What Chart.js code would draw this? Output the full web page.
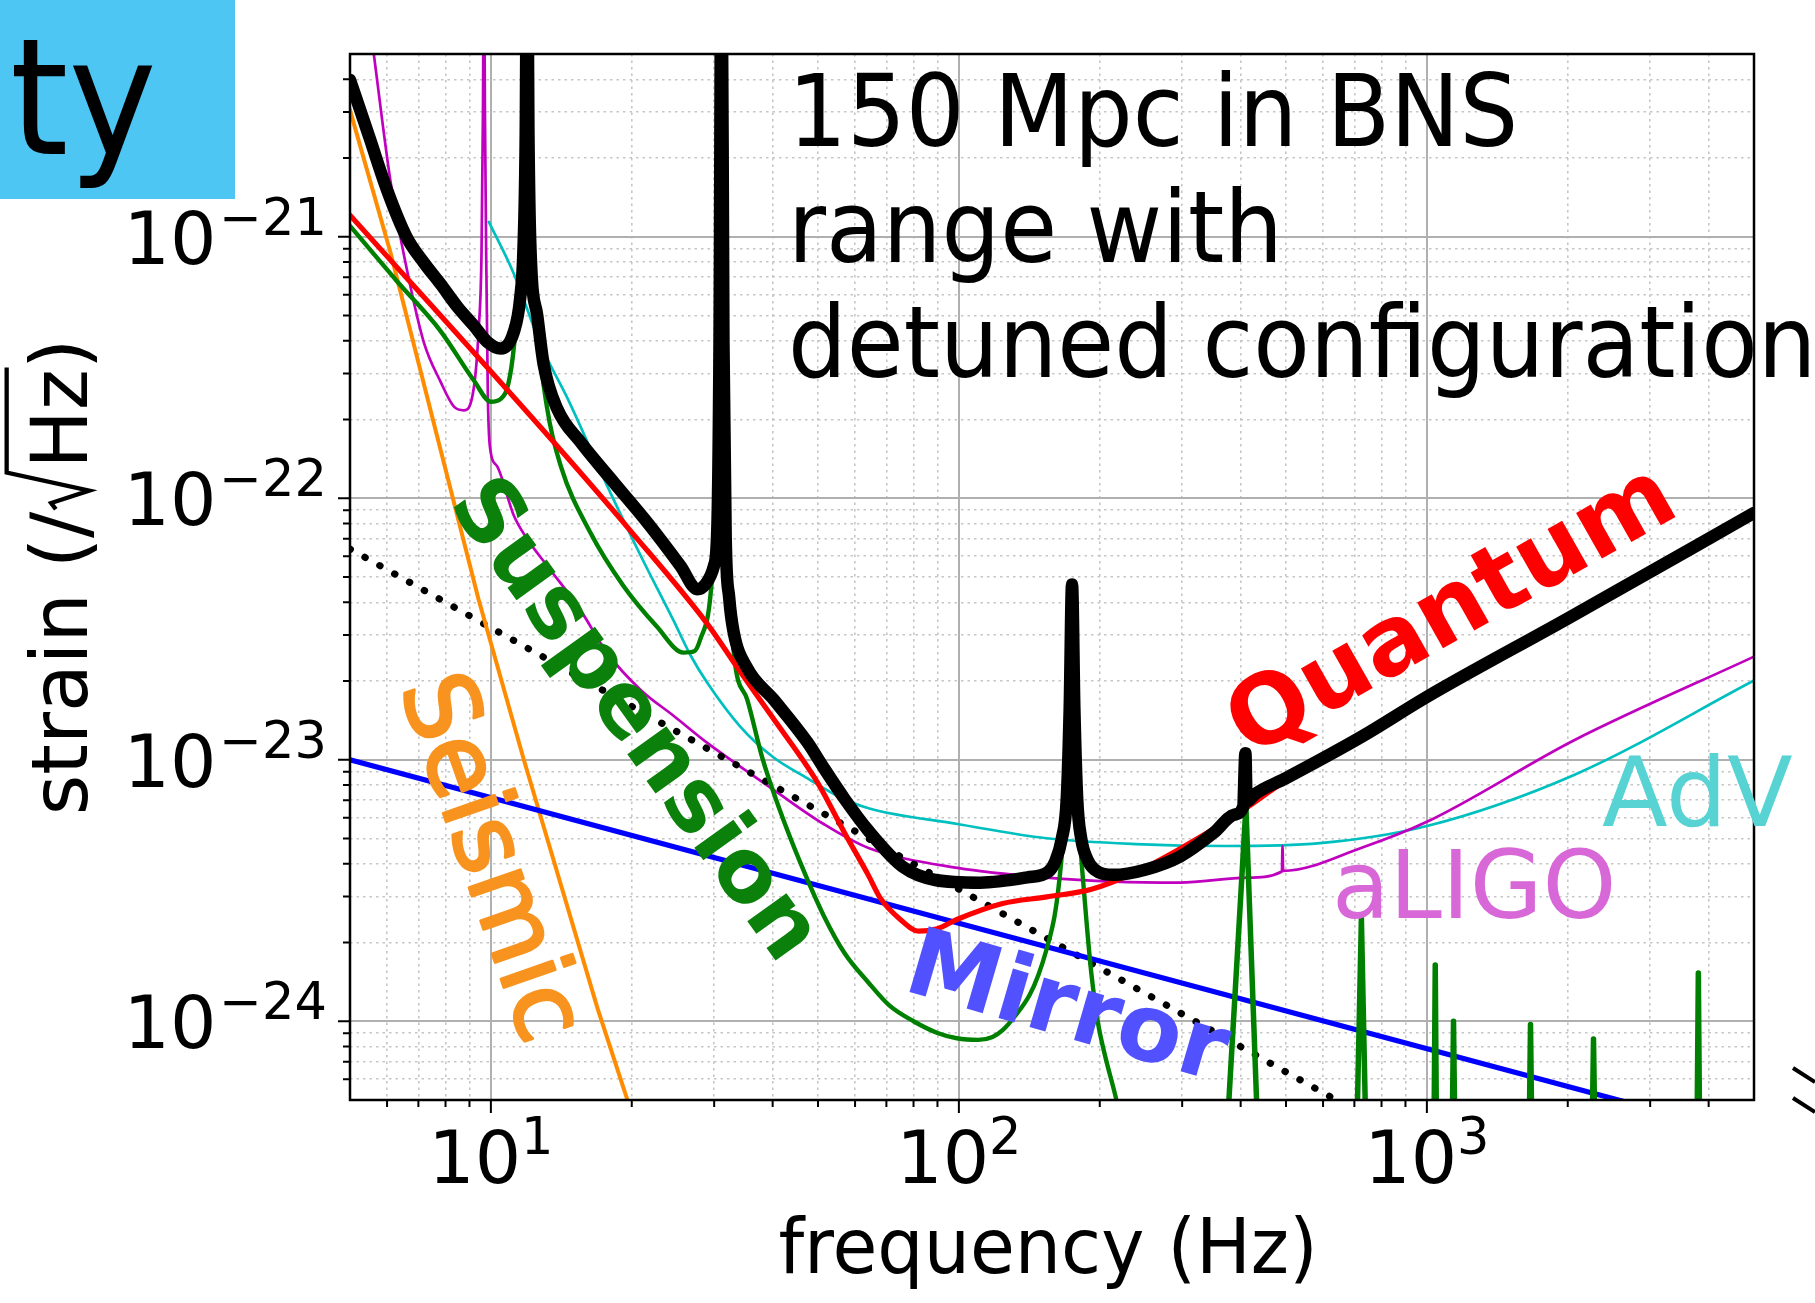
<!DOCTYPE html>
<html><head><meta charset="utf-8">
<script src="https://cdn.jsdelivr.net/npm/chart.js@4.4.1/dist/chart.umd.min.js"></script>
<style>html,body{margin:0;padding:0;background:#fff;overflow:hidden}canvas{display:block}</style>
</head><body>
<canvas id="c" width="1815" height="1303" style="width:1815px;height:1303px"></canvas>
<script>
// ---------- data (frequency in Hz, strain in 1/sqrt(Hz)) ----------
const totalFreq = [5,5.5,6,6.6,7.2,7.8,8.5,9.2,9.8,10.5,11.2,11.55,11.74,11.87,11.95,12.03,12.15,12.56,12.97,13.86,15.54,18.31,21.58,25.42,27.6,28.7,29.95,30.45,30.8,31.1,31.4,31.75,32.3,33,35.3,40.2,47.4,51.4,57,64,76,89,111,140,155,160.5,166,170,172.5,174.5,176.5,179,182.5,188,195,214,250,297,350,388,405,409.5,412,430,500,728,1000,2000,5000];
const totalStrain = [3.98e-21,2.40e-21,1.51e-21,1.00e-21,7.94e-22,6.61e-22,5.37e-22,4.57e-22,3.98e-22,3.74e-22,4.34e-22,5.82e-22,9.04e-22,2.51e-21,1.58e-20,2.51e-21,9.04e-22,5.01e-22,3.24e-22,2.20e-22,1.64e-22,1.15e-22,8.09e-23,5.51e-23,4.49e-23,4.68e-23,5.50e-23,7.41e-23,3.98e-22,1.58e-20,3.98e-22,7.08e-23,4.17e-23,3.09e-23,2.24e-23,1.70e-23,1.17e-23,9.33e-24,7.08e-24,5.37e-24,3.89e-24,3.47e-24,3.39e-24,3.55e-24,3.72e-24,4.07e-24,5.01e-24,7.08e-24,1.58e-23,4.68e-23,1.58e-23,7.08e-24,5.01e-24,4.17e-24,3.80e-24,3.63e-24,3.80e-24,4.27e-24,5.25e-24,6.17e-24,6.61e-24,1.06e-23,6.92e-24,7.41e-24,8.51e-24,1.23e-23,1.74e-23,3.47e-23,8.79e-23];

const quantumFreq = [5,12.8,20,29,34,40,50,57,64,68,75,82,90,99,124,154,192,239,297,388,500,1000,2000,5000];
const quantumStrain = [1.21e-21,1.86e-22,7.41e-23,3.31e-23,2.19e-23,1.45e-23,8.13e-24,5.25e-24,3.63e-24,2.95e-24,2.45e-24,2.21e-24,2.26e-24,2.45e-24,2.82e-24,2.99e-24,3.20e-24,3.72e-24,4.57e-24,6.10e-24,8.32e-24,1.70e-23,3.43e-23,8.71e-23];

const suspensionFreq = [5,6.3,7.8,9.2,10,10.5,10.9,11.2,11.5,11.8,11.95,12.1,12.6,13.2,14.1,16.3,19.2,22.6,25.8,27.2,28,29.5,30.3,30.8,31.1,31.4,32.2,33,35.3,38,41.3,46,51.4,57,64,71,80,90,99,110,118,124,132,141.6,148,154,160,163,167,170.5,173,174.5,176,178.5,181.5,185,188,192,198,205,217,235,260,300];
const suspensionStrain = [1.10e-21,6.76e-22,4.37e-22,2.82e-22,2.34e-22,2.40e-22,2.75e-22,3.80e-22,7.08e-22,2.00e-21,1.58e-20,2.00e-21,4.47e-22,2.19e-22,1.33e-22,7.41e-23,4.62e-23,3.24e-23,2.57e-23,2.60e-23,2.88e-23,4.37e-23,1.00e-22,5.01e-22,1.58e-20,5.01e-22,6.31e-23,2.63e-23,1.70e-23,1.02e-23,6.53e-24,3.98e-24,2.54e-24,1.82e-24,1.41e-24,1.15e-24,1.00e-24,9.02e-25,8.61e-25,8.49e-25,8.71e-25,9.25e-25,1.05e-24,1.26e-24,1.51e-24,1.89e-24,2.51e-24,3.16e-24,5.01e-24,1.00e-23,2.51e-23,4.47e-23,2.51e-23,1.00e-23,5.01e-24,3.16e-24,2.24e-24,1.51e-24,1.00e-24,7.46e-25,5.01e-25,2.51e-25,1.00e-25,1.00e-26];

const violinFreq = [370.6,410.5,437.6,709,724.5,740,1036,1042,1048,1133,1140,1147,1655,1665,1675,2256,2270,2284,3779,3802,3825,5000];
const violinStrain = [2.82e-25,6.61e-24,2.82e-25,4e-25,2.48e-24,4e-25,4e-25,1.64e-24,4e-25,4e-25,1.00e-24,4e-25,4e-25,9.73e-25,4e-25,4e-25,8.55e-25,4e-25,4e-25,1.53e-24,4e-25,4e-25];

const mirrorFreq = [5,100,5000];
const mirrorStrain = [1.0e-23,2.37e-24,3.63e-25];

const seismicFreq = [5,6.1,9.41,11.76,16.9,19.6,25];
const seismicStrain = [3.05e-21,8.73e-22,4.11e-23,1.0e-23,1.12e-24,4.97e-25,1.0e-25];

const dottedFreq = [5,100,5000];
const dottedStrain = [6.4e-23,3.2e-24,6.4e-26];

const aligoFreq = [5.3,5.62,6.1,6.62,7.19,7.8,8.34,8.76,9.19,9.42,9.55,9.62,9.66,9.71,9.77,9.85,9.95,10.3,11.2,12,13.2,15.5,17.7,20.9,24.6,29,34.1,40.2,51.4,64.1,99.3,154,214,297,413,490,491.5,493,728,1000,2069,5000];
const aligoStrain = [1.12e-20,5.01e-21,1.64e-21,7.45e-22,3.95e-22,2.80e-22,2.24e-22,2.17e-22,2.63e-22,4.47e-22,8.71e-22,3.16e-21,1.58e-20,3.16e-21,8.71e-22,2.51e-22,1.58e-22,1.33e-22,8.57e-23,6.92e-23,5.51e-23,3.76e-23,2.57e-23,1.85e-23,1.47e-23,1.16e-23,9.42e-24,7.67e-24,5.68e-24,4.60e-24,3.86e-24,3.54e-24,3.42e-24,3.39e-24,3.54e-24,3.74e-24,4.68e-24,3.76e-24,4.62e-24,5.79e-24,1.19e-23,2.48e-23];

const advFreq = [9.9,11.2,12.8,14.6,17.7,20.9,24.6,26.7,29,34.1,40.2,47.4,55.3,64.1,99.3,154,239,371,591,1000,2069,5000];
const advStrain = [1.14e-21,7.21e-22,3.84e-22,2.40e-22,1.12e-22,6.03e-23,3.39e-23,2.51e-23,1.97e-23,1.34e-23,1.02e-23,8.51e-24,7.24e-24,6.53e-24,5.68e-24,5.01e-24,4.76e-24,4.68e-24,4.80e-24,5.58e-24,8.77e-24,2.01e-23];

// ---------- axes / ticks ----------
const xMajorTicks = [10,100,1000];
const xMinorTicks = [6,7,8,9,20,30,40,50,60,70,80,90,200,300,400,500,600,700,800,900,2000,3000,4000];
const xTickExponents = ['1','2','3'];
const yMajorTicks = [1e-24,1e-23,1e-22,1e-21];
const yMinorTicks = [6e-25,7e-25,8e-25,9e-25,2e-24,3e-24,4e-24,5e-24,6e-24,7e-24,8e-24,9e-24,2e-23,3e-23,4e-23,5e-23,6e-23,7e-23,8e-23,9e-23,2e-22,3e-22,4e-22,5e-22,6e-22,7e-22,8e-22,9e-22,2e-21,3e-21,4e-21];
const yTickExponents = ['\u221224','\u221223','\u221222','\u221221'];

// ---------- texts ----------
const titleLines = ['150 Mpc in BNS','range with','detuned configuration'];
const xAxisTitle = 'frequency (Hz)';
const yAxisTitleParts = ['strain (/','Hz',')'];
const curveLabels = ['Suspension','Seismic','Quantum','Mirror','AdV','aLIGO'];
const cornerText = 'ty';

function pts(fs, hs){ return fs.map((f,i)=>({x:f, y:hs[i]})); }

const FONT = '"DejaVu Sans", "Noto Sans", sans-serif';

function gridTicks(majors, minors){
  const t = majors.map(v=>({value:v, major:true})).concat(minors.map(v=>({value:v, major:false})));
  t.sort((a,b)=>a.value-b.value);
  return t;
}

const isMajor = ctx => !!(ctx.tick && ctx.tick.major);

const decor = {
  id: 'decor',
  beforeDraw(chart){
    const c = chart.ctx; c.save(); c.fillStyle = '#fff'; c.fillRect(0,0,chart.width,chart.height); c.restore();
  },
  afterDatasetsDraw(chart){
    const c = chart.ctx, a = chart.chartArea, xs = chart.scales.x, ys = chart.scales.y;
    c.save();
    // frame
    c.strokeStyle = '#000'; c.lineWidth = 2.5;
    c.strokeRect(a.left, a.top, a.right-a.left, a.bottom-a.top);
    // tick marks
    c.lineWidth = 2; c.beginPath();
    xMajorTicks.forEach(v=>{const p=xs.getPixelForValue(v); c.moveTo(p,a.bottom); c.lineTo(p,a.bottom+13);});
    xMinorTicks.forEach(v=>{const p=xs.getPixelForValue(v); c.moveTo(p,a.bottom); c.lineTo(p,a.bottom+7);});
    yMajorTicks.forEach(v=>{const p=ys.getPixelForValue(v); c.moveTo(a.left,p); c.lineTo(a.left-12,p);});
    yMinorTicks.forEach(v=>{const p=ys.getPixelForValue(v); c.moveTo(a.left,p); c.lineTo(a.left-7,p);});
    c.stroke();

    // title text
    c.fillStyle = '#000'; c.textAlign = 'left'; c.textBaseline = 'alphabetic';
    const tb = [146, 262, 377];
    titleLines.forEach((t,i)=>{ c.save(); c.translate(788, tb[i]); c.scale(0.935,1); c.font = '99px ' + FONT; c.fillText(t,0,0); c.restore(); });

    // rotated curve labels
    const rl = (text, cx, cy, ang, size, weight, color, extra) => {
      c.save(); c.translate(cx, cy); c.rotate(ang*Math.PI/180);
      c.font = weight + ' ' + size + 'px ' + FONT; c.fillStyle = color;
      c.textAlign = 'center'; c.textBaseline = 'alphabetic';
      c.fillText(text, 0, 0.33*size);
      if (extra) { c.strokeStyle = color; c.lineWidth = extra; c.lineJoin = 'round'; c.strokeText(text, 0, 0.33*size); }
      c.restore();
    };
    rl(curveLabels[0], 637, 718, 54.3, 88, 'bold', '#0b800b');
    rl(curveLabels[1], 493, 857, 70.8, 99, 'normal', '#f7931e', 3);
    rl(curveLabels[2], 1450, 608, -29.5, 96, 'bold', '#ff0000');
    rl(curveLabels[3], 1068, 1006, 16.3, 94, 'bold', '#5151ff');
    c.textAlign = 'left';
    c.font = '96px ' + FONT; c.fillStyle = '#57d3d3'; c.fillText(curveLabels[4], 1602, 826);
    c.font = '94px ' + FONT; c.fillStyle = '#d868d8'; c.fillText(curveLabels[5], 1332, 918);
    c.restore();
  },
  afterDraw(chart){
    const c = chart.ctx, a = chart.chartArea, xs = chart.scales.x, ys = chart.scales.y;
    c.save();
    c.fillStyle = '#000'; c.textBaseline = 'alphabetic';
    // y tick labels
    yMajorTicks.forEach((v,i)=>{
      const py = ys.getPixelForValue(v);
      c.font = '51px ' + FONT; const we = c.measureText(yTickExponents[i]).width;
      c.textAlign = 'right'; c.fillText(yTickExponents[i], 327, py - 2);
      c.font = '73px ' + FONT; c.fillText('10', 327 - we - 3, py + 27);
    });
    // x tick labels
    xMajorTicks.forEach((v,i)=>{
      const px = xs.getPixelForValue(v);
      c.font = '73px ' + FONT; const wb = c.measureText('10').width;
      c.font = '51px ' + FONT; const we = c.measureText(xTickExponents[i]).width;
      const s = px - (wb+we)/2;
      c.textAlign = 'left';
      c.font = '73px ' + FONT; c.fillText('10', s, 1183);
      c.font = '51px ' + FONT; c.fillText(xTickExponents[i], s+wb, 1154);
    });
    // x axis title
    c.save(); c.translate((a.left+a.right)/2 - 4, 1273); c.scale(0.96,1);
    c.font = '76px ' + FONT; c.textAlign = 'center'; c.fillText(xAxisTitle, 0, 0); c.restore();
    // y axis title with radical
    {
      const size = 78;
      c.save(); c.translate(87, (a.top+a.bottom)/2); c.rotate(-Math.PI/2);
      c.font = size + 'px ' + FONT; c.textAlign = 'left'; c.strokeStyle = '#000';
      const w1 = c.measureText(yAxisTitleParts[0]).width, w2 = c.measureText(yAxisTitleParts[1]).width, w3 = c.measureText(yAxisTitleParts[2]).width;
      const rw = 0.55*size, L = w1 + rw + w2 + w3;
      let u = -L/2;
      c.fillText(yAxisTitleParts[0], u, 0); u += w1;
      const u0 = u;
      c.lineWidth = 0.055*size; c.lineJoin = 'miter';
      c.beginPath();
      c.moveTo(u0+0.03*size, -0.40*size);
      c.lineTo(u0+0.11*size, -0.46*size);
      c.lineTo(u0+0.27*size, 0.03*size);
      c.lineTo(u0+0.50*size, -1.03*size);
      c.lineTo(u0+rw+w2+0.02*size, -1.03*size);
      c.stroke();
      u += rw; c.fillText(yAxisTitleParts[1], u, 0); u += w2; c.fillText(yAxisTitleParts[2], u, 0);
      c.restore();
    }
    // corner box from slide
    c.fillStyle = '#4ec6f3'; c.fillRect(0, 0, 235, 199);
    c.save(); c.translate(10, 154); c.scale(0.92,1); c.fillStyle = '#000'; c.font = '162px ' + FONT; c.textAlign='left'; c.fillText(cornerText, 0, 0); c.restore();
    // axis break marks at right edge
    c.strokeStyle = '#000'; c.lineWidth = 4; c.beginPath();
    c.moveTo(1793, 1068); c.lineTo(1815, 1082);
    c.moveTo(1793, 1098); c.lineTo(1815, 1112);
    c.stroke();
    c.restore();
  }
};

const base = { pointRadius: 0, pointHoverRadius: 0, pointHitRadius: 0, fill: false, clip: 0, borderJoinStyle: 'round', borderCapStyle: 'round' };
const smooth = { cubicInterpolationMode: 'monotone' };

const chart = new Chart(document.getElementById('c').getContext('2d'), {
  type: 'line',
  data: { datasets: [
    Object.assign({label:'Total', data: pts(totalFreq,totalStrain), borderColor:'#000', borderWidth: 12.5}, base, smooth),
    Object.assign({label:'Quantum', data: pts(quantumFreq,quantumStrain), borderColor:'#ff0000', borderWidth: 5.2}, base, smooth),
    Object.assign({label:'Suspension violin', data: pts(violinFreq,violinStrain), borderColor:'#008000', borderWidth: 5.5, tension: 0}, base),
    Object.assign({label:'Suspension', data: pts(suspensionFreq,suspensionStrain), borderColor:'#008000', borderWidth: 4.4}, base, smooth),
    Object.assign({label:'Mirror', data: pts(mirrorFreq,mirrorStrain), borderColor:'#0000ff', borderWidth: 5.2, tension: 0}, base),
    Object.assign({label:'Seismic', data: pts(seismicFreq,seismicStrain), borderColor:'#ff8c00', borderWidth: 4, tension: 0}, base),
    Object.assign({label:'Other', data: pts(dottedFreq,dottedStrain), borderColor:'#000', borderWidth: 7, tension: 0, borderDash:[0.5,16.5]}, base),
    Object.assign({label:'aLIGO', data: pts(aligoFreq,aligoStrain), borderColor:'#bf00bf', borderWidth: 2.7}, base, smooth),
    Object.assign({label:'AdV', data: pts(advFreq,advStrain), borderColor:'#00bfbf', borderWidth: 2.7}, base, smooth)
  ]},
  options: {
    responsive: false, animation: false, devicePixelRatio: 1,
    layout: { padding: { left: 0, top: 54, right: 61, bottom: 0 } },
    plugins: { legend: { display: false }, tooltip: { enabled: false } },
    elements: { line: { capBezierPoints: false } },
    events: [],
    scales: {
      x: {
        type: 'logarithmic', position: 'bottom', min: 5, max: 5000,
        ticks: { display: false },
        grid: { drawTicks: false, color: ctx => isMajor(ctx) ? '#b0b0b0' : '#c6c6c6', lineWidth: ctx => isMajor(ctx) ? 2 : 1.6 },
        border: { display: false, dash: ctx => isMajor(ctx) ? [] : [2.5, 4] },
        afterBuildTicks: s => { s.ticks = gridTicks(xMajorTicks, xMinorTicks); },
        afterFit: s => { s.height = 203; }
      },
      y: {
        type: 'logarithmic', position: 'left', min: 5e-25, max: 5e-21,
        ticks: { display: false },
        grid: { drawTicks: false, color: ctx => isMajor(ctx) ? '#b0b0b0' : '#c6c6c6', lineWidth: ctx => isMajor(ctx) ? 2 : 1.6 },
        border: { display: false, dash: ctx => isMajor(ctx) ? [] : [2.5, 4] },
        afterBuildTicks: s => { s.ticks = gridTicks(yMajorTicks, yMinorTicks); },
        afterFit: s => { s.width = 350; }
      }
    }
  },
  plugins: [decor]
});
</script>
</body></html>
